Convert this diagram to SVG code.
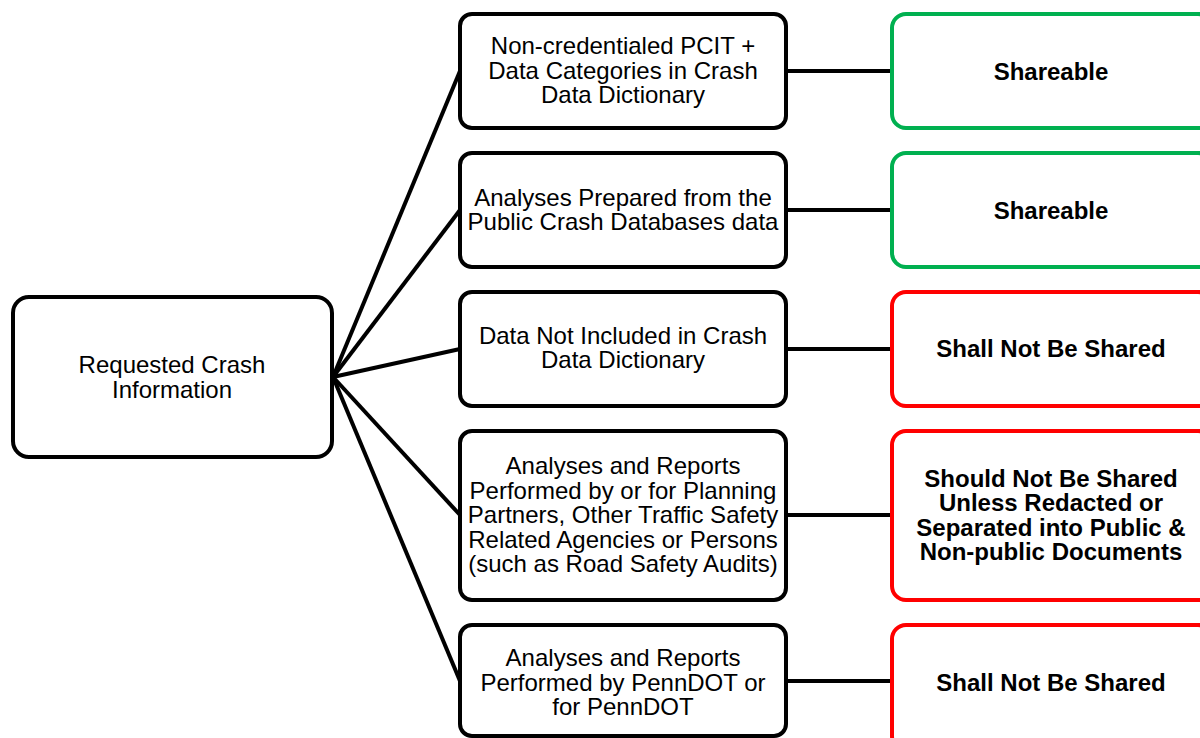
<svg xmlns="http://www.w3.org/2000/svg" width="1200" height="738" viewBox="0 0 1200 738">
<style>
.box{fill:#fff;stroke:#000;stroke-width:4}
.g{fill:#fff;stroke:#00b050;stroke-width:4}
.r{fill:#fff;stroke:#ff0000;stroke-width:4}
.t{font-family:"Liberation Sans",Arial,sans-serif;font-size:24px;fill:#000;text-anchor:middle}
.b{font-family:"Liberation Sans",Arial,sans-serif;font-size:24px;font-weight:bold;fill:#000;text-anchor:middle}
.c{stroke:#000;stroke-width:4;fill:none}
</style>
<rect width="1200" height="738" fill="#fff"/>
<g id="connectors">
<line class="c" x1="333" y1="377" x2="460" y2="71"/>
<line class="c" x1="333" y1="377" x2="460" y2="210"/>
<line class="c" x1="333" y1="377" x2="460" y2="349"/>
<line class="c" x1="333" y1="377" x2="460" y2="515"/>
<line class="c" x1="333" y1="377" x2="460" y2="681"/>
<line class="c" x1="786" y1="71" x2="892" y2="71"/>
<line class="c" x1="786" y1="210" x2="892" y2="210"/>
<line class="c" x1="786" y1="349" x2="892" y2="349"/>
<line class="c" x1="786" y1="515" x2="892" y2="515"/>
<line class="c" x1="786" y1="681" x2="892" y2="681"/>
</g>
<g id="root">
<rect class="box" x="13" y="297" width="319" height="160" rx="16"/>
<text class="t" x="172" y="372.5">Requested Crash</text>
<text class="t" x="172" y="397.5">Information</text>
</g>
<g id="m1">
<rect class="box" x="460" y="14" width="326" height="114" rx="12"/>
<text class="t" x="623" y="54">Non-credentialed PCIT +</text>
<text class="t" x="623" y="78.5">Data Categories in Crash</text>
<text class="t" x="623" y="103">Data Dictionary</text>
</g>
<g id="m2">
<rect class="box" x="460" y="153" width="326" height="114" rx="12"/>
<text class="t" x="623" y="205.5">Analyses Prepared from the</text>
<text class="t" x="623" y="229.5">Public Crash Databases data</text>
</g>
<g id="m3">
<rect class="box" x="460" y="292" width="326" height="114" rx="12"/>
<text class="t" x="623" y="344">Data Not Included in Crash</text>
<text class="t" x="623" y="368">Data Dictionary</text>
</g>
<g id="m4">
<rect class="box" x="460" y="431" width="326" height="169" rx="12"/>
<text class="t" x="623" y="474">Analyses and Reports</text>
<text class="t" x="623" y="498.5">Performed by or for Planning</text>
<text class="t" x="623" y="523">Partners, Other Traffic Safety</text>
<text class="t" x="623" y="547.5">Related Agencies or Persons</text>
<text class="t" x="623" y="572">(such as Road Safety Audits)</text>
</g>
<g id="m5">
<rect class="box" x="460" y="625" width="326" height="111" rx="12"/>
<text class="t" x="623" y="666">Analyses and Reports</text>
<text class="t" x="623" y="690.5">Performed by PennDOT or</text>
<text class="t" x="623" y="715">for PennDOT</text>
</g>
<g id="r1">
<rect class="g" x="892" y="14" width="320" height="114" rx="14"/>
<text class="b" x="1051" y="79.5">Shareable</text>
</g>
<g id="r2">
<rect class="g" x="892" y="153" width="320" height="114" rx="14"/>
<text class="b" x="1051" y="218.5">Shareable</text>
</g>
<g id="r3">
<rect class="r" x="892" y="292" width="320" height="114" rx="14"/>
<text class="b" x="1051" y="357">Shall Not Be Shared</text>
</g>
<g id="r4">
<rect class="r" x="892" y="431" width="320" height="169" rx="14"/>
<text class="b" x="1051" y="486.5">Should Not Be Shared</text>
<text class="b" x="1051" y="511">Unless Redacted or</text>
<text class="b" x="1051" y="535.5">Separated into Public &amp;</text>
<text class="b" x="1051" y="560">Non-public Documents</text>
</g>
<g id="r5">
<rect class="r" x="892" y="625" width="320" height="125" rx="14"/>
<text class="b" x="1051" y="690.5">Shall Not Be Shared</text>
</g>
</svg>
